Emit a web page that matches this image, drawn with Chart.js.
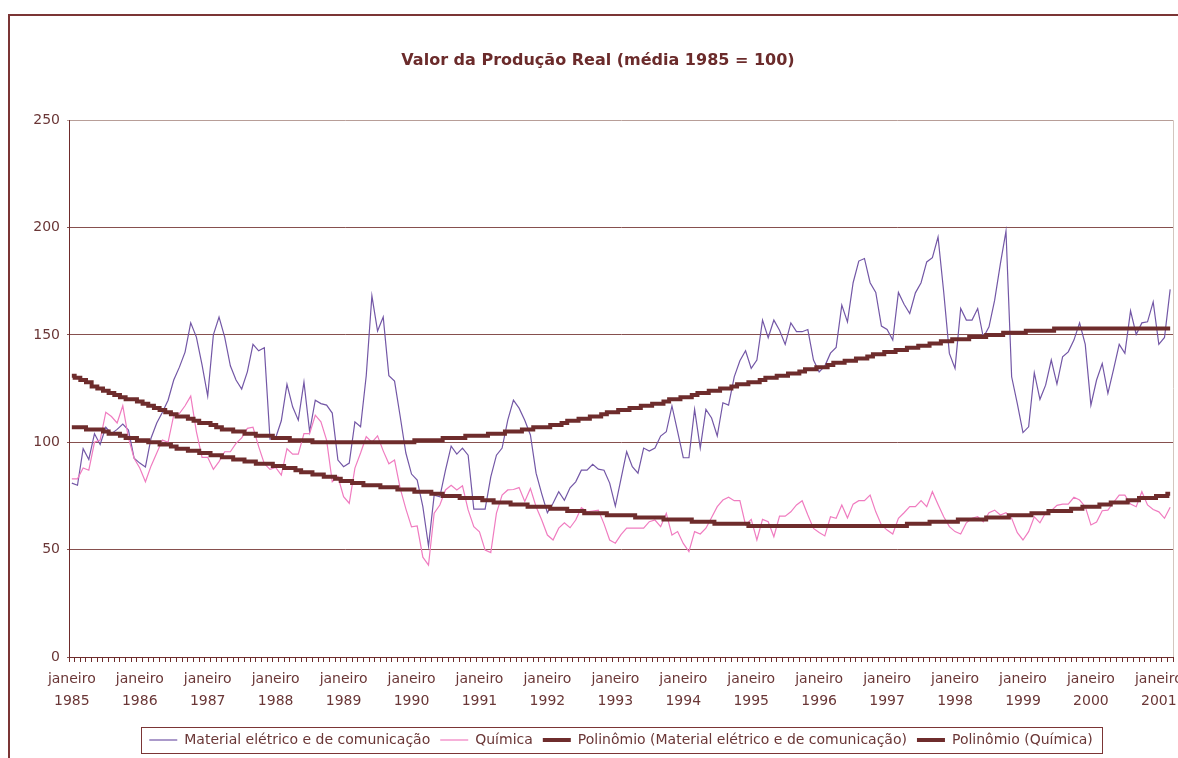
<!DOCTYPE html>
<html>
<head>
<meta charset="utf-8">
<title>Valor da Produção Real</title>
<script src="https://cdn.jsdelivr.net/npm/chart.js@4.4.1/dist/chart.umd.min.js"></script>
<style>
  html, body { margin: 0; padding: 0; background: #fff; }
  canvas { display: block; }
</style>
</head>
<body>
<canvas id="prodChart" width="1178" height="758"></canvas>
<script>
// categorias: meses de janeiro 1985 a março 2001
const yearLabels = ['1985', '1986', '1987', '1988', '1989', '1990', '1991', '1992', '1993',
    '1994', '1995', '1996', '1997', '1998', '1999', '2000', '2001'];
const monthCount = 195;

// Material elétrico e de comunicação
const materialValues = [
    81, 80, 97, 92, 104, 99, 107, 104, 106, 108.5, 105.7, 92.6,
    90.3, 88.5, 102, 109, 114, 119.6, 129, 135, 142, 155.6, 149, 136,
    121.5, 150, 158.3, 149, 135.6, 129, 124.8, 132.8, 145.6, 142.6, 144, 101.5,
    102, 110, 127, 116.5, 110.3, 128, 105, 119.6, 118, 117.3, 113.6, 91.7,
    88.6, 90.3, 109.5, 107.2, 131, 168.2, 151.8, 158.3, 131, 128.5, 112, 95,
    85.2, 82.4, 70, 51.7, 75.4, 74.6, 87, 98.2, 94.5, 97.3, 94, 68.9,
    68.9, 68.9, 83.9, 94, 97.3, 110.3, 119.6, 115.9, 110.3, 103.4, 85.6, 76,
    67.2, 71.6, 77, 73, 78.8, 81.6, 87, 87, 89.7, 87.5, 87, 81,
    70.3, 83, 95.6, 88.6, 85.6, 97.3, 95.9, 97.3, 102.9, 104.9, 116.9, 105,
    92.8, 92.8, 115.3, 97.3, 115.3, 111.3, 102.9, 118.4, 117.3, 130.5, 138, 142.6,
    134.4, 138.3, 156.9, 148.7, 156.9, 152.2, 145.6, 155.6, 151.5, 151.5, 152.5, 138.3,
    132.8, 135.5, 141.5, 144.2, 163.9, 156.1, 174.3, 184.4, 185.6, 174.3, 169.8, 154.1,
    152.5, 147.6, 169.8, 164.3, 160, 169.6, 174.3, 184, 186, 195.6, 170, 141.4,
    134.4, 162.3, 156.9, 156.9, 162.3, 148.8, 153.8, 166.2, 183, 198.3, 130.5, 118,
    104.5, 107.2, 132.4, 120, 126.6, 138.3, 127.1, 139.8, 142.1, 147.6, 155.6, 145.6,
    117.3, 129, 136.7, 122.8, 134, 145.6, 141.4, 161.2, 150.2, 155.6, 156.1, 165.4,
    145.6, 148.8, 171.2
];

// Química
const quimicaValues = [
    83, 83, 88, 87, 100, 101, 114, 112, 109, 117, 102, 92.5,
    88, 81.6, 89, 95, 101, 100, 112.6, 113.4, 117, 121.5, 105, 93,
    93, 87.4, 91, 95.6, 95.6, 99.5, 102, 106.5, 107, 98, 90, 87.4,
    88.3, 84.7, 97, 94.5, 94.5, 104, 104, 112.6, 109.5, 101, 81.6, 84,
    74.7, 71.6, 88, 95, 102.6, 100, 103, 96, 90, 91.7, 78.5, 69,
    60.6, 61, 46.5, 42.8, 67, 70.8, 77.8, 80, 77.8, 79.7, 68.5, 60.7,
    58.3, 49.8, 48.6, 67, 75.4, 77.8, 78, 78.9, 72.4, 78.5, 70, 63.8,
    56.8, 54.5, 60, 62.5, 60.2, 63.8, 69.5, 67.6, 68, 68.4, 62, 54.5,
    53, 57, 60, 60, 60, 60, 63, 63.8, 60.7, 66.9, 56.8, 58.4,
    52.9, 49.1, 58.4, 57.3, 60, 65, 70, 73.1, 74.4, 72.8, 72.8, 61.5,
    64.1, 54.5, 64.1, 63, 56, 65.6, 65.6, 67.6, 70.8, 72.8, 66.1, 59.9,
    58, 56.4, 65.3, 64.6, 70.8, 64.8, 71.2, 72.8, 72.8, 75.4, 67.6, 61.5,
    59.1, 57.3, 64.6, 67.2, 70, 70, 72.8, 70, 77, 71, 65.3, 60.7,
    58.4, 57.3, 62.5, 64.6, 65.3, 62.9, 67.2, 68.4, 66.1, 67.2, 64.6, 57.9,
    54.5, 58.4, 65.3, 62.5, 67.2, 68.1, 70.6, 71.2, 71.2, 74.4, 73.1, 70,
    61.5, 62.9, 68.1, 68.4, 72, 75.4, 75.4, 71.2, 70, 77, 70.8, 68.7,
    67.6, 64.6, 69.7
];

// linhas de tendência
const trendMaterial = [
    131, 130, 129, 128, 126, 125, 124, 123, 122, 121, 120, 120,
    119, 118, 117, 116, 115, 114, 113, 112, 112, 111, 110, 109,
    109, 108, 107, 106, 106, 105, 105, 104, 104, 103, 103, 103,
    102, 102, 102, 101, 101, 101, 101, 100, 100, 100, 100, 100,
    100, 100, 100, 100, 100, 100, 100, 100, 100, 100, 100, 100,
    100, 101, 101, 101, 101, 101, 102, 102, 102, 102, 103, 103,
    103, 103, 104, 104, 104, 105, 105, 105, 106, 106, 107, 107,
    107, 108, 108, 109, 110, 110, 111, 111, 112, 112, 113, 114,
    114, 115, 115, 116, 116, 117, 117, 118, 118, 119, 120, 120,
    121, 121, 122, 123, 123, 124, 124, 125, 125, 126, 127, 127,
    128, 128, 129, 130, 130, 131, 131, 132, 132, 133, 134, 134,
    135, 135, 136, 137, 137, 138, 138, 139, 139, 140, 141, 141,
    142, 142, 143, 143, 144, 144, 145, 145, 146, 146, 147, 147,
    148, 148, 148, 149, 149, 149, 150, 150, 150, 151, 151, 151,
    151, 152, 152, 152, 152, 152, 153, 153, 153, 153, 153, 153,
    153, 153, 153, 153, 153, 153, 153, 153, 153, 153, 153, 153,
    153, 153, 153
];

const trendQuimica = [
    107, 107, 107, 106, 106, 106, 105, 104, 104, 103, 102, 102,
    101, 101, 100, 100, 99, 99, 98, 97, 97, 96, 96, 95,
    95, 94, 94, 93, 93, 92, 92, 91, 91, 90, 90, 90,
    89, 89, 88, 88, 87, 86, 86, 85, 85, 84, 84, 83,
    82, 82, 81, 81, 80, 80, 80, 79, 79, 79, 78, 78,
    78, 77, 77, 77, 76, 76, 75, 75, 75, 74, 74, 74,
    74, 73, 73, 72, 72, 72, 71, 71, 71, 70, 70, 70,
    70, 69, 69, 69, 68, 68, 68, 67, 67, 67, 67, 66,
    66, 66, 66, 66, 65, 65, 65, 65, 65, 64, 64, 64,
    64, 64, 63, 63, 63, 63, 62, 62, 62, 62, 62, 62,
    61, 61, 61, 61, 61, 61, 61, 61, 61, 61, 61, 61,
    61, 61, 61, 61, 61, 61, 61, 61, 61, 61, 61, 61,
    61, 61, 61, 61, 62, 62, 62, 62, 63, 63, 63, 63,
    63, 64, 64, 64, 64, 64, 65, 65, 65, 65, 66, 66,
    66, 66, 67, 67, 67, 68, 68, 68, 68, 69, 69, 70,
    70, 70, 71, 71, 72, 72, 72, 73, 73, 74, 74, 74,
    75, 75, 76
];

const categories = [];
for (let i = 0; i < monthCount; i++) {
    categories.push(i % 12 === 0 ? ['janeiro', yearLabels[i / 12]] : '');
}

const maroon = '#6e2c2c';
const textColor = '#6a3636';
const fontFamily = '"DejaVu Sans", sans-serif';

// moldura externa, borda direita do gráfico e caixa da legenda
const framePlugin = {
    id: 'frame',
    beforeDraw(chart) {
        const c = chart.ctx;
        c.save();
        c.fillStyle = '#ffffff';
        c.fillRect(0, 0, chart.width, chart.height);
        c.strokeStyle = '#7b3535';
        c.lineWidth = 2;
        c.beginPath();
        c.moveTo(9, chart.height);
        c.lineTo(9, 15);
        c.lineTo(chart.width, 15);
        c.stroke();
        c.restore();
    },
    afterDraw(chart) {
        const c = chart.ctx;
        const area = chart.chartArea;
        c.save();
        c.strokeStyle = '#d3c6bf';
        c.lineWidth = 1;
        c.beginPath();
        c.moveTo(Math.round(area.right) + 0.5, area.top);
        c.lineTo(Math.round(area.right) + 0.5, area.bottom);
        c.stroke();

        const hb = chart.legend.legendHitBoxes;
        if (hb && hb.length) {
            const first = hb[0];
            const last = hb[hb.length - 1];
            const left = Math.round(first.left - 8) + 0.5;
            const right = Math.round(last.left + last.width + 9) + 0.5;
            const top = Math.round(first.top - 6) + 0.5;
            const bottom = Math.round(first.top + first.height + 6) + 0.5;
            c.strokeStyle = '#7b3535';
            c.strokeRect(left, top, right - left, bottom - top);
        }
        c.restore();
    }
};

const ctx = document.getElementById('prodChart').getContext('2d');

const prodChart = new Chart(ctx, {
    type: 'line',
    data: {
        labels: categories,
        datasets: [
            {
                label: 'Material elétrico e de comunicação',
                data: materialValues,
                borderColor: '#7357a6',
                borderWidth: 1.2,
                pointRadius: 0,
                tension: 0,
                order: 3,
            },
            {
                label: 'Química',
                data: quimicaValues,
                borderColor: '#f07cc0',
                borderWidth: 1.2,
                pointRadius: 0,
                tension: 0,
                order: 2,
            },
            {
                label: 'Polinômio (Material elétrico e de comunicação)',
                data: trendMaterial,
                borderColor: maroon,
                borderWidth: 4,
                pointRadius: 0,
                stepped: 'middle',
                order: 1,
            },
            {
                label: 'Polinômio (Química)',
                data: trendQuimica,
                borderColor: maroon,
                borderWidth: 4,
                pointRadius: 0,
                stepped: 'middle',
                order: 0,
            },
        ],
    },
    options: {
        responsive: false,
        devicePixelRatio: 1,
        animation: false,
        layout: {
            padding: { left: 23, right: 5, top: 0, bottom: 1 },
        },
        plugins: {
            tooltip: { enabled: false },
            title: {
                display: true,
                text: 'Valor da Produção Real (média 1985 = 100)',
                color: '#6b2b2b',
                font: { family: fontFamily, size: 16, weight: 'bold', lineHeight: 1.2 },
                padding: { top: 51, bottom: 50 },
            },
            legend: {
                position: 'bottom',
                fullSize: false,
                labels: {
                    usePointStyle: true,
                    pointStyle: 'line',
                    pointStyleWidth: 28,
                    color: textColor,
                    padding: 10,
                    font: { family: fontFamily, size: 14 },
                    sort: (a, b) => a.datasetIndex - b.datasetIndex,
                },
            },
        },
        scales: {
            x: {
                type: 'category',
                offset: true,
                afterFit: (scale) => { scale.height = 66; },
                border: { color: maroon, width: 1 },
                grid: {
                    offset: true,
                    drawOnChartArea: false,
                    drawTicks: true,
                    tickLength: 5,
                    color: maroon,
                },
                ticks: {
                    autoSkip: false,
                    maxRotation: 0,
                    minRotation: 0,
                    padding: 7,
                    color: textColor,
                    font: { family: fontFamily, size: 14, lineHeight: 1.55 },
                },
            },
            y: {
                min: 0,
                max: 250,
                afterFit: (scale) => { scale.width = 46; },
                border: { color: maroon, width: 1 },
                grid: {
                    color: (c) => (c.tick && c.tick.value === 250 ? '#b89e98' : '#86504e'),
                    tickLength: 2,
                },
                ticks: {
                    stepSize: 50,
                    padding: 7,
                    color: textColor,
                    font: { family: fontFamily, size: 14 },
                },
            },
        },
    },
    plugins: [framePlugin],
});
</script>
</body>
</html>
